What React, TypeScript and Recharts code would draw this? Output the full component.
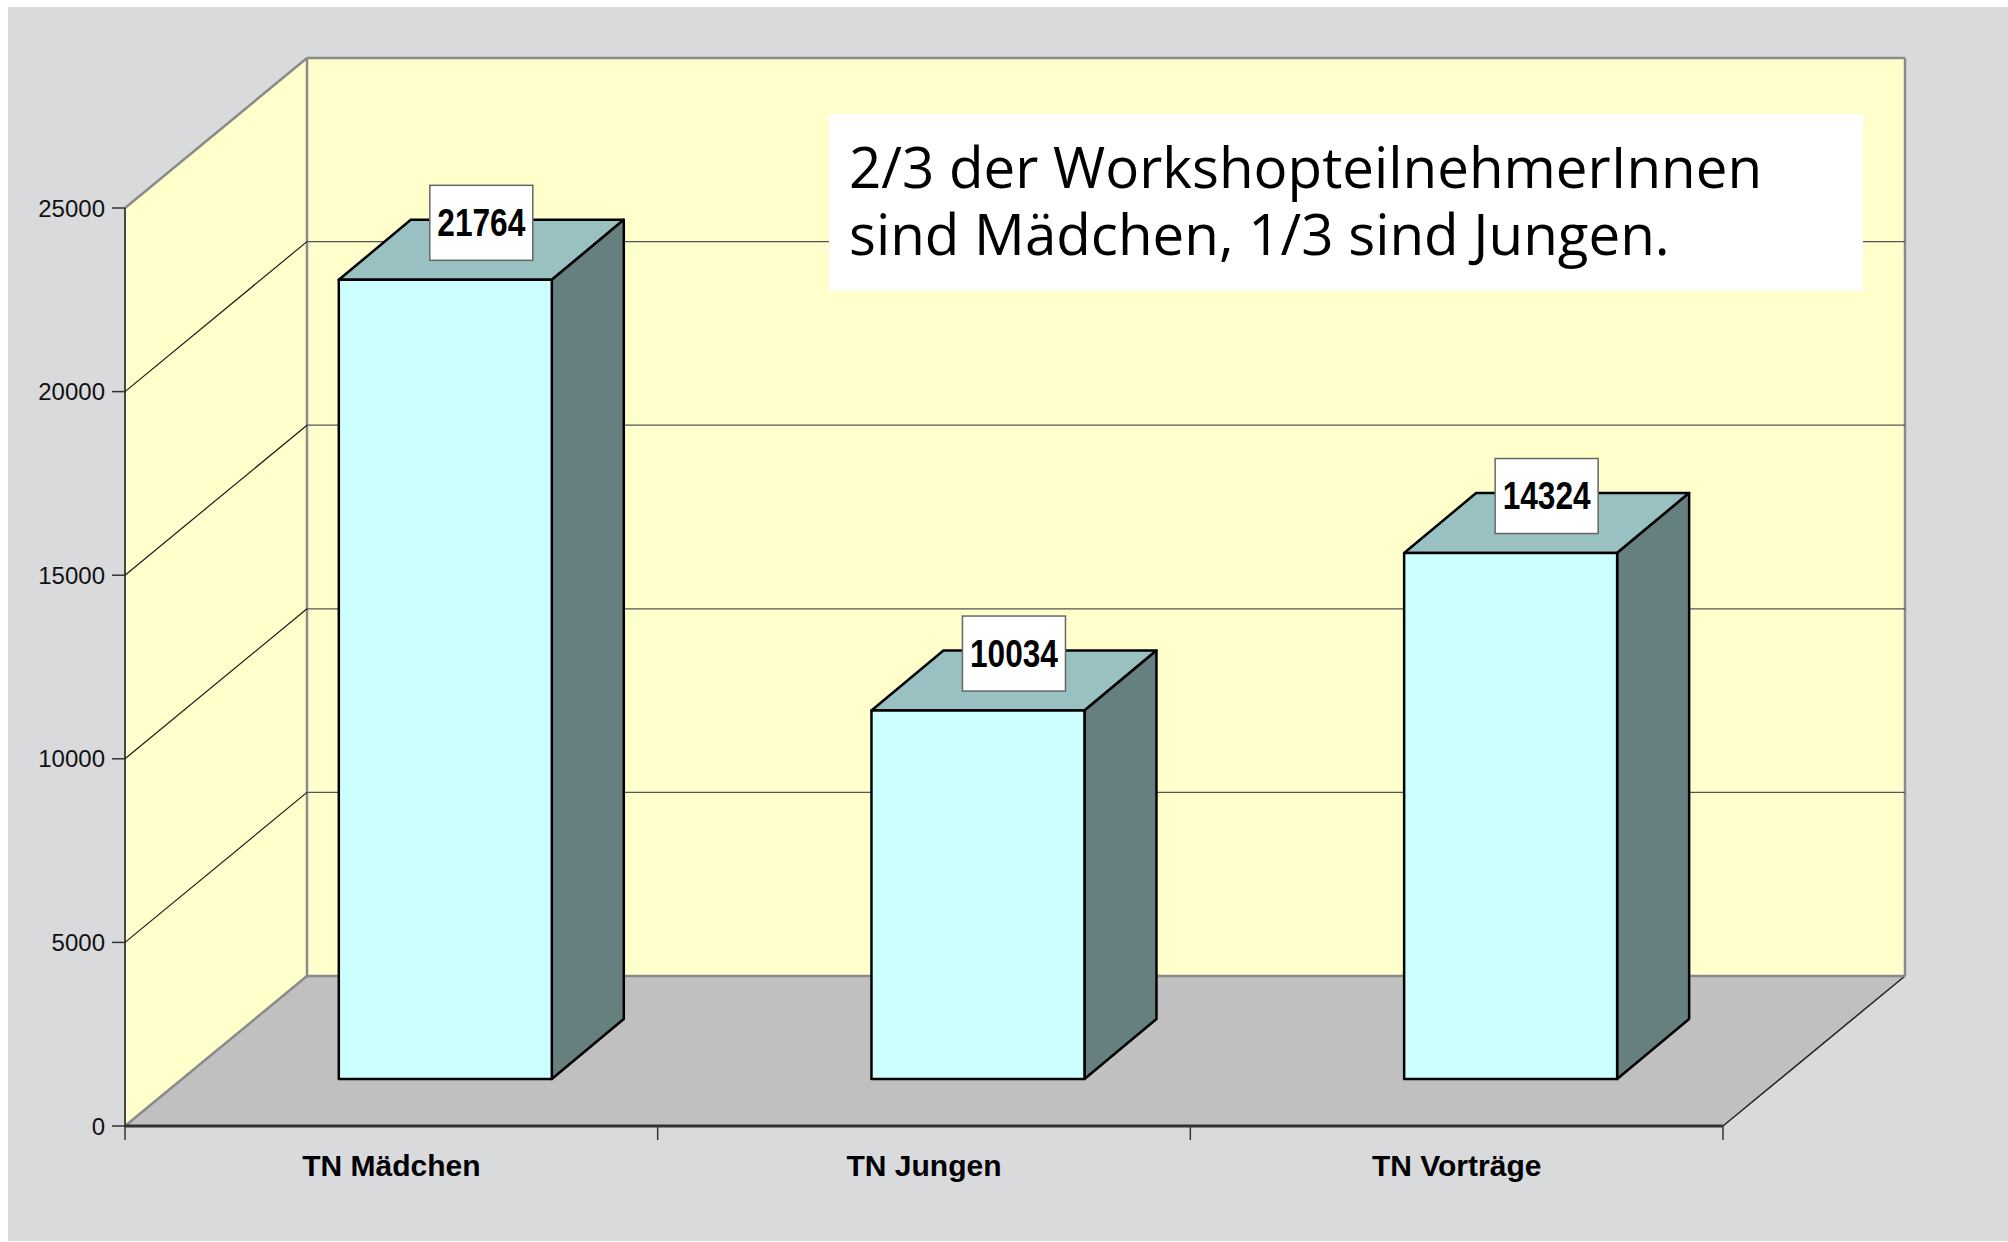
import React from "react";
import {
  Bar,
  BarChart,
  LabelList,
  ReferenceArea,
  ReferenceLine,
  XAxis,
  YAxis,
} from "recharts";

const CATEGORIES = ["TN Mädchen", "TN Jungen", "TN Vorträge"];
const VALUES = [21764, 10034, 14324];
const Y_TICKS = [0, 5000, 10000, 15000, 20000, 25000];
const TITLE_LINES = ["2/3 der WorkshopteilnehmerInnen", "sind Mädchen, 1/3 sind Jungen."];

const data = CATEGORIES.map((name, i) => ({ name, value: VALUES[i] }));

// fake 3D: how far the back wall / bars are pushed into depth
const WALL_DX = 182;
const WALL_DY = 150;
const BAR_FX = 54;
const BAR_FY = 47;
const BAR_DX = 72;
const BAR_DY = 60;

const SANS = "'Liberation Sans', Arial, sans-serif";

const pts = (arr: number[][]) => arr.map((p) => p.join(",")).join(" ");

/** Side wall, back wall and floor, drawn from the plot rect the ReferenceArea gets. */
function Walls(props: any) {
  const { x, y, width: w, height: h } = props;
  const bx = x + WALL_DX;
  const by = y - WALL_DY;
  return (
    <g>
      <polygon points={pts([[x, y + h], [x, y], [bx, by], [bx, by + h]])} fill="#ffffcc" />
      <rect x={bx} y={by} width={w} height={h} fill="#ffffcc" />
      <polygon
        points={pts([[x, y + h], [x + w, y + h], [bx + w, by + h], [bx, by + h]])}
        fill="#c0c0c0"
      />
      <line x1={bx} y1={by} x2={bx} y2={by + h} stroke="#8a8a8a" strokeWidth={2.5} />
      <line x1={bx + w} y1={by} x2={bx + w} y2={by + h} stroke="#8a8a8a" strokeWidth={2.5} />
      <line x1={x + w} y1={y + h} x2={bx + w} y2={by + h} stroke="#222" strokeWidth={1.5} />
    </g>
  );
}

/** Grid line continued along the side wall and across the back wall. */
function WallGridLine(props: any) {
  const { x1, x2, y1, value } = props;
  const left = Math.min(x1, x2);
  const right = Math.max(x1, x2);
  const edge = value === 0 || value === Y_TICKS[Y_TICKS.length - 1];
  const color = edge ? "#8a8a8a" : "#1a1a1a";
  const sw = edge ? 2.5 : 1.2;
  return (
    <g>
      <line x1={left} y1={y1} x2={left + WALL_DX} y2={y1 - WALL_DY} stroke={color} strokeWidth={sw} />
      <line
        x1={left + WALL_DX}
        y1={y1 - WALL_DY}
        x2={right + WALL_DX}
        y2={y1 - WALL_DY}
        stroke={edge ? color : "#555"}
        strokeWidth={sw}
      />
    </g>
  );
}

/** Short tick below the axis at a category boundary. */
function BoundaryTick(props: any) {
  const { x1, y1, y2 } = props;
  const bottom = Math.max(y1, y2);
  return <line x1={x1} y1={bottom} x2={x1} y2={bottom + 14} stroke="#333" strokeWidth={1.5} />;
}

function Box3D(props: any) {
  const { x, y, width: w, height: h } = props;
  const fx = x + BAR_FX;
  const fy = y - BAR_FY;
  const common = { stroke: "#000", strokeWidth: 2.5, strokeLinejoin: "round" as const };
  return (
    <g>
      <polygon
        points={pts([[fx, fy], [fx + w, fy], [fx + w + BAR_DX, fy - BAR_DY], [fx + BAR_DX, fy - BAR_DY]])}
        fill="#9ac1c1"
        {...common}
      />
      <polygon
        points={pts([
          [fx + w, fy],
          [fx + w, fy + h],
          [fx + w + BAR_DX, fy + h - BAR_DY],
          [fx + w + BAR_DX, fy - BAR_DY],
        ])}
        fill="#667f7f"
        {...common}
      />
      <rect x={fx} y={fy} width={w} height={h} fill="#ccffff" {...common} />
    </g>
  );
}

function ValueBox(props: any) {
  const vb = props.viewBox && props.viewBox.width !== undefined ? props.viewBox : props;
  const { x, y, width } = vb;
  const cx = x + width / 2 + BAR_FX + BAR_DX / 2;
  const cy = y - BAR_FY - BAR_DY + 3;
  const bw = 103;
  const bh = 75;
  return (
    <g>
      <rect x={cx - bw / 2} y={cy - bh / 2} width={bw} height={bh} fill="#fff" stroke="#666" strokeWidth={1.5} />
      {/* no narrow font installed, so squeeze the bold digits to the original width */}
      <text
        x={cx - 44}
        y={cy + 13}
        textLength={88}
        lengthAdjust="spacingAndGlyphs"
        fontFamily={SANS}
        fontWeight="bold"
        fontSize={38}
        fill="#000"
      >
        {props.value}
      </text>
    </g>
  );
}

export default function App() {
  return (
    <div style={{ position: "relative", width: 2008, height: 1242, background: "#fff" }}>
      <style>{`body{margin:0}`}</style>
      <div
        style={{
          position: "absolute",
          left: 8,
          top: 7,
          width: 2000,
          height: 1234,
          background: "#d9dadc",
        }}
      />
      <div style={{ position: "absolute", left: 0, top: 0 }}>
        <BarChart
          width={2008}
          height={1242}
          data={data}
          margin={{ top: 208, right: 285, bottom: 0, left: 0 }}
          barCategoryGap="30%"
        >
          <ReferenceArea
            x1={CATEGORIES[0]}
            x2={CATEGORIES[CATEGORIES.length - 1]}
            y1={0}
            y2={Y_TICKS[Y_TICKS.length - 1]}
            shape={Walls}
            zIndex={-300}
          />
          {Y_TICKS.map((v) => (
            <ReferenceLine
              key={v}
              y={v}
              shape={(p: any) => <WallGridLine {...p} value={v} />}
              zIndex={-200}
            />
          ))}
          {CATEGORIES.map((c) => (
            <ReferenceLine key={c} x={c} position="start" shape={BoundaryTick} zIndex={-200} />
          ))}
          <ReferenceLine
            x={CATEGORIES[CATEGORIES.length - 1]}
            position="end"
            shape={BoundaryTick}
            zIndex={-200}
          />
          <YAxis
            type="number"
            domain={[0, Y_TICKS[Y_TICKS.length - 1]]}
            ticks={Y_TICKS}
            width={125}
            tickSize={13}
            tickMargin={7}
            axisLine={{ stroke: "#111", strokeWidth: 1.5 }}
            tickLine={{ stroke: "#333", strokeWidth: 1.5 }}
            tick={{ fontFamily: SANS, fontSize: 24, fill: "#111" }}
          />
          <XAxis
            dataKey="name"
            height={116}
            tickSize={14}
            tickMargin={15}
            tickLine={false}
            axisLine={{ stroke: "#333", strokeWidth: 3 }}
            tick={{ fontFamily: SANS, fontSize: 30, fontWeight: "bold", fill: "#000" }}
          />
          <Bar dataKey="value" shape={Box3D} isAnimationActive={false}>
            <LabelList dataKey="value" content={ValueBox} />
          </Bar>
        </BarChart>
      </div>
      <div
        style={{
          position: "absolute",
          left: 829,
          top: 114,
          width: 1034,
          height: 177,
          background: "#fff",
          boxSizing: "border-box",
          paddingLeft: 20,
          paddingTop: 19,
          fontFamily: "'Open Sans', 'Noto Sans', sans-serif",
          fontSize: 56.5,
          lineHeight: "67px",
          color: "#000",
          whiteSpace: "nowrap",
        }}
      >
        {TITLE_LINES.map((l) => (
          <div key={l}>{l}</div>
        ))}
      </div>
    </div>
  );
}
